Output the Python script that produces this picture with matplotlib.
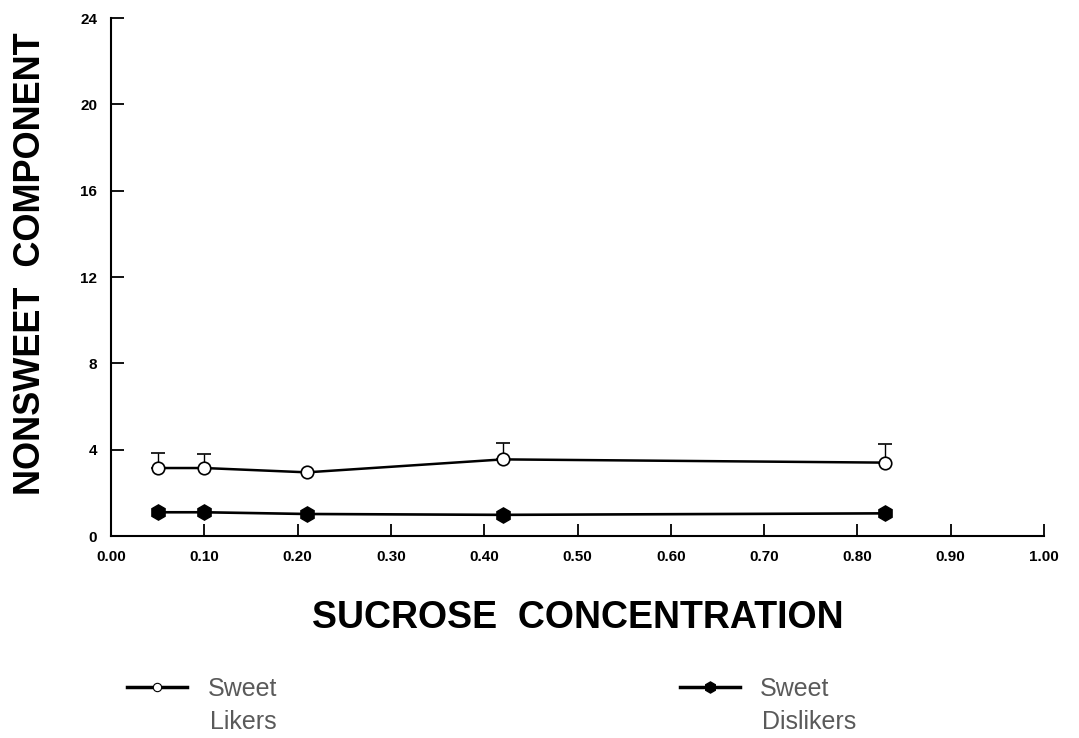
import numpy as np
import matplotlib as mpl
mpl.use('Agg')
import matplotlib.pyplot as plt
from matplotlib.lines import Line2D

# data
conc = [0.05, 0.10, 0.21, 0.42, 0.83]
likers = [3.15, 3.15, 2.95, 3.55, 3.40]
likers_err = [0.70, 0.65, 0.0, 0.75, 0.85]
dislikers = [1.10, 1.10, 1.02, 0.98, 1.05]

xticks = np.arange(0, 1.01, 0.1)
yticks = [0, 4, 8, 12, 16, 20, 24]

mpl.rcParams['font.family'] = ['Liberation Sans', 'DejaVu Sans']

fig = plt.figure(figsize=(10.79, 7.38), dpi=100)
ax = fig.add_axes([0.1029, 0.2737, 0.8647, 0.7019])

ax.errorbar(conc, likers, yerr=[np.zeros(len(likers_err)), likers_err],
            color='black', lw=1.8, marker='o', ms=9, mfc='white', mec='black',
            mew=1.2, capsize=5, elinewidth=1.0, capthick=1.4)
ax.plot(conc, dislikers, color='black', lw=1.9, marker='h', ms=11,
        mfc='black', mec='black')

ax.set_xlim(0, 1.0)
ax.set_ylim(0, 24)
ax.set_xticks(xticks)
ax.set_xticklabels(['%.2f' % v for v in xticks], fontweight='bold', fontsize=11)
ax.set_yticks(yticks)
ax.set_yticklabels([str(v) for v in yticks], fontweight='bold', fontsize=11)
ax.tick_params(direction='in', length=9, width=1.3, pad=10)
ax.spines['top'].set_visible(False)
ax.spines['right'].set_visible(False)
ax.spines['left'].set_linewidth(1.5)
ax.spines['bottom'].set_linewidth(1.5)

ax.set_xlabel('SUCROSE  CONCENTRATION', fontsize=27, fontweight='bold',
              labelpad=26)
ax.set_ylabel('NONSWEET  COMPONENT', fontsize=26, fontweight='bold')
ax.yaxis.set_label_coords(-0.068, 0.525)

# legend below the plot, one block per group
h_like = Line2D([], [], color='black', lw=2.5, marker='o', ms=6,
                mfc='white', mec='black', mew=0.8)
h_dis = Line2D([], [], color='black', lw=2.5, marker='h', ms=8,
               mfc='black', mec='black')
leg_color = '#5a5a5a'
for handle, first, second, xpos in [(h_like, 'Sweet', 'Likers', 0.118),
                                    (h_dis, 'Sweet', 'Dislikers', 0.630)]:
    leg = fig.legend([handle], [first], loc='upper left',
                     bbox_to_anchor=(xpos, 0.083), frameon=False,
                     fontsize=18, borderpad=0, borderaxespad=0,
                     handlelength=2.4, handletextpad=0.8, labelcolor=leg_color)
    fig.text(xpos + 0.0765, 0.022, second, fontsize=18, color=leg_color,
             ha='left', va='center')

fig.savefig('out.png', dpi=100)
